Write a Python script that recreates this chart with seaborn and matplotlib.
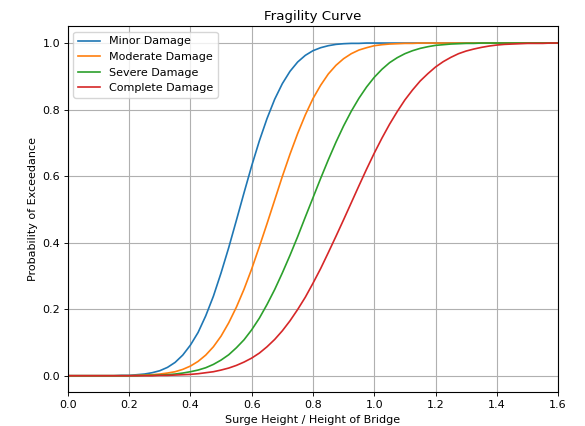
import numpy as np
import pandas as pd
import matplotlib
matplotlib.use("Agg")
import matplotlib.pyplot as plt
import seaborn as sns

# x grid: 0.000, 0.025, ..., 1.600 (65 points)
x_vals = [round(0.025 * i, 3) for i in range(65)]

minor = [0.000, 0.000, 0.000, 0.000, 0.000, 0.000, 0.000, 0.001, 0.001, 0.003,
         0.005, 0.009, 0.015, 0.025, 0.040, 0.062, 0.092, 0.130, 0.180, 0.239,
         0.309, 0.385, 0.467, 0.550, 0.631, 0.706, 0.773, 0.831, 0.878, 0.915,
         0.943, 0.963, 0.977, 0.986, 0.992, 0.996, 0.998, 0.999, 0.999, 1.000,
         1.000, 1.000, 1.000, 1.000, 1.000, 1.000, 1.000, 1.000, 1.000, 1.000,
         1.000, 1.000, 1.000, 1.000, 1.000, 1.000, 1.000, 1.000, 1.000, 1.000,
         1.000, 1.000, 1.000, 1.000, 1.000]
moderate = [0.000, 0.000, 0.000, 0.000, 0.000, 0.000, 0.000, 0.000, 0.000, 0.001,
            0.002, 0.003, 0.005, 0.008, 0.012, 0.019, 0.029, 0.043, 0.062, 0.087,
            0.119, 0.159, 0.206, 0.260, 0.321, 0.388, 0.457, 0.528, 0.599, 0.666,
            0.728, 0.784, 0.833, 0.873, 0.907, 0.933, 0.953, 0.968, 0.979, 0.986,
            0.992, 0.995, 0.997, 0.998, 0.999, 0.999, 1.000, 1.000, 1.000, 1.000,
            1.000, 1.000, 1.000, 1.000, 1.000, 1.000, 1.000, 1.000, 1.000, 1.000,
            1.000, 1.000, 1.000, 1.000, 1.000]
severe = [0.000, 0.000, 0.000, 0.000, 0.000, 0.000, 0.000, 0.000, 0.000, 0.000,
          0.001, 0.001, 0.002, 0.003, 0.005, 0.008, 0.012, 0.017, 0.024, 0.034,
          0.047, 0.063, 0.084, 0.108, 0.138, 0.173, 0.214, 0.259, 0.309, 0.362,
          0.418, 0.477, 0.535, 0.593, 0.649, 0.702, 0.751, 0.795, 0.834, 0.868,
          0.897, 0.921, 0.941, 0.956, 0.968, 0.977, 0.984, 0.989, 0.993, 0.995,
          0.997, 0.998, 0.999, 0.999, 1.000, 1.000, 1.000, 1.000, 1.000, 1.000,
          1.000, 1.000, 1.000, 1.000, 1.000]
complete = [0.000, 0.000, 0.000, 0.000, 0.000, 0.000, 0.000, 0.000, 0.000, 0.000,
            0.000, 0.000, 0.001, 0.001, 0.002, 0.003, 0.004, 0.006, 0.009, 0.012,
            0.017, 0.023, 0.031, 0.041, 0.053, 0.068, 0.087, 0.109, 0.135, 0.165,
            0.199, 0.236, 0.278, 0.322, 0.370, 0.419, 0.469, 0.520, 0.571, 0.621,
            0.669, 0.714, 0.756, 0.794, 0.829, 0.859, 0.886, 0.908, 0.928, 0.944,
            0.957, 0.968, 0.976, 0.982, 0.987, 0.991, 0.994, 0.996, 0.997, 0.998,
            0.999, 0.999, 0.999, 1.000, 1.000]

labels = ["Minor Damage", "Moderate Damage", "Severe Damage", "Complete Damage"]
series = [minor, moderate, severe, complete]
colors = ["#1f77b4", "#ff7f0e", "#2ca02c", "#d62728"]

df = pd.concat([pd.DataFrame({"x": x_vals, "p": s, "state": lab})
                for lab, s in zip(labels, series)], ignore_index=True)

plt.rcParams.update({
    "axes.linewidth": 0.8,
    "xtick.major.size": 2.8, "ytick.major.size": 2.8,
    "xtick.major.width": 0.64, "ytick.major.width": 0.64,
    "xtick.major.pad": 2.8, "ytick.major.pad": 2.8,
    "axes.labelpad": 3.2,
})

fig = plt.figure(figsize=(5.85, 4.26), dpi=100)
ax = fig.add_axes([0.116, 0.079, 0.838, 0.859])
sns.lineplot(data=df, x="x", y="p", hue="state", hue_order=labels,
             palette=colors, ax=ax, lw=1.2)
ax.set_xlim(0, 1.6)
ax.set_ylim(-0.05, 1.05)
ax.set_xticks(np.arange(0, 1.61, 0.2))
ax.set_yticks(np.arange(0, 1.01, 0.2))
ax.grid(True, color="#b0b0b0", lw=0.8)
ax.set_xlabel("Surge Height / Height of Bridge", fontsize=8)
ax.set_ylabel("Probability of Exceedance", fontsize=8)
ax.set_title("Fragility Curve", fontsize=9.6, pad=4.8)
ax.tick_params(labelsize=8)
ax.legend(loc="upper left", fontsize=8)
fig.savefig("out.png", dpi=100)
